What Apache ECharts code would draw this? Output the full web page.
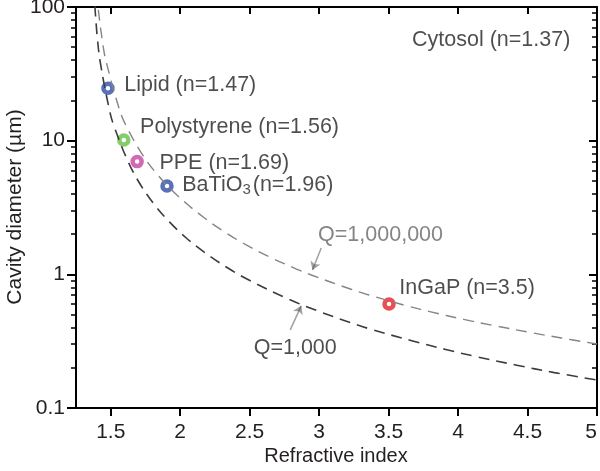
<!DOCTYPE html>
<html><head><meta charset="utf-8">
<script src="https://cdn.jsdelivr.net/npm/echarts@6/dist/echarts.min.js"></script>
<style>html,body{margin:0;padding:0;background:#fff}#c{width:600px;height:471px}</style>
</head><body><div id="c"></div>
<script>
// ---- data ----
const xTicks = [1.5, 2, 2.5, 3, 3.5, 4, 4.5, 5];
const yRange = [0.1, 100];
const xRange = [1.25, 5];
const xTitle = 'Refractive index';
const yTitle = 'Cavity diameter (µm)';

// Q = 1,000 curve (refractive index, cavity diameter in µm)
const q1000N = [1.378, 1.386, 1.404, 1.426, 1.490, 1.523, 1.627, 1.720, 1.829, 1.924, 2.044, 2.175, 2.340, 2.498, 2.785, 2.979, 3.223, 3.370, 3.660, 3.911, 4.133, 4.413, 4.693, 5.0];
const q1000D = [140, 100.9, 58.1, 37.8, 17.1, 12.9, 6.90, 4.58, 3.18, 2.46, 1.87, 1.46, 1.12, 0.902, 0.649, 0.538, 0.436, 0.389, 0.320, 0.274, 0.242, 0.210, 0.184, 0.162];

// Q = 1,000,000 curve
const q1e6N = [1.398, 1.408, 1.440, 1.465, 1.566, 1.623, 1.734, 1.835, 1.978, 2.175, 2.331, 2.498, 2.642, 2.833, 2.943, 3.230, 3.359, 3.639, 3.804, 4.041, 4.241, 4.528, 4.744, 5.0];
const q1e6D = [130, 100.7, 55.5, 39.8, 16.7, 12.2, 7.69, 5.60, 3.90, 2.64, 2.04, 1.61, 1.35, 1.10, 0.989, 0.773, 0.701, 0.578, 0.524, 0.460, 0.417, 0.366, 0.334, 0.301];

// materials
const matLabels = ['Lipid (n=1.47)', 'Polystyrene (n=1.56)', 'PPE (n=1.69)', '{a|BaTiO}{s|3}{a|(n=1.96)}', 'InGaP (n=3.5)'];
const matN = [1.48, 1.594, 1.69, 1.905, 3.503];
const matD = [24.7, 10.1, 6.97, 4.58, 0.60];

// annotations
const noteTexts = ['Cytosol (n=1.37)', 'Q=1,000,000', 'Q=1,000'];
const noteN = [4.238, 3.442, 2.828];
const noteD = [56.6, 1.97, 0.282];
const arrowFromN = [3.015, 2.792];
const arrowFromD = [1.574, 0.384];
const arrowToN = [2.952, 2.871];
const arrowToD = [1.079, 0.581];

// ---- styles ----
const matColors = ['#2f4ea8', '#66bf45', '#c444a4', '#2f4ea8', '#e62129'];
const matOffsets = [[9.5, -3], [9.5, -13], [15.5, 1], [8.5, -1], [3.5, -16]];
const noteColors = ['#231f20', '#666666', '#231f20'];
const arrowColors = ['#444444', '#444444'];
const FONT = 'Liberation Sans, Arial, Helvetica, sans-serif';
const TXT = '#231f20';
const LBL = 21.5;

const zip = (a, b) => a.map((v, i) => [v, b[i]]);
const axisLineStyle = { color: '#000', width: 2 };
const tickStyle = { color: '#000', width: 2 };
const chart = echarts.init(document.getElementById('c'));
chart.setOption({
  animation: false,
  grid: { left: 76, right: 3, top: 7, bottom: 63, containLabel: false, outerBoundsMode: 'none' },
  graphic: [
    {
      type: 'text', x: 336, y: 456, silent: true,
      style: {
        text: xTitle, fill: TXT, fontSize: 20, fontFamily: FONT,
        align: 'center', verticalAlign: 'middle', textAlign: 'center', textVerticalAlign: 'middle'
      }
    },
    {
      type: 'text', x: 15, y: 207, rotation: Math.PI / 2, silent: true,
      style: {
        text: yTitle, fill: TXT, fontSize: 21, fontFamily: FONT,
        align: 'center', verticalAlign: 'middle', textAlign: 'center', textVerticalAlign: 'middle'
      }
    }
  ],
  xAxis: [
    {
      type: 'value', min: xRange[0], max: xRange[1], position: 'bottom',
      axisLine: { show: true, onZero: false, lineStyle: axisLineStyle },
      axisTick: { show: true, customValues: xTicks, length: 8, lineStyle: tickStyle },
      axisLabel: { customValues: xTicks, fontSize: 21, color: TXT, margin: 14, fontFamily: FONT, alignMaxLabel: 'right' },
      splitLine: { show: false }
    },
    {
      type: 'value', min: xRange[0], max: xRange[1], position: 'top',
      axisLine: { show: true, onZero: false, lineStyle: axisLineStyle },
      axisTick: { show: true, customValues: xTicks, length: 7, inside: true, lineStyle: tickStyle },
      axisLabel: { show: false },
      splitLine: { show: false }
    }
  ],
  yAxis: [
    {
      type: 'log', logBase: 10, min: yRange[0], max: yRange[1], position: 'left',
      axisLine: { show: true, onZero: false, lineStyle: axisLineStyle },
      axisTick: { show: true, length: 9, lineStyle: tickStyle },
      minorTick: { show: true, splitNumber: 9, length: 5, lineStyle: { color: '#000', width: 1.5 } },
      axisLabel: { fontSize: 21, color: TXT, margin: 11, fontFamily: FONT },
      splitLine: { show: false }
    },
    {
      type: 'log', logBase: 10, min: yRange[0], max: yRange[1], position: 'right',
      axisLine: { show: true, onZero: false, lineStyle: axisLineStyle },
      axisTick: { show: true, length: 8, inside: true, lineStyle: tickStyle },
      minorTick: { show: true, splitNumber: 9, length: 5, lineStyle: { color: '#000', width: 1.5 } },
      axisLabel: { show: false },
      splitLine: { show: false }
    }
  ],
  series: [
    {
      type: 'line', data: zip(q1e6N, q1e6D), showSymbol: false, smooth: 0.4,
      clip: true, lineStyle: { color: '#858585', width: 1.4, type: [11, 7] }
    },
    {
      type: 'line', data: zip(q1000N, q1000D), showSymbol: false, smooth: 0.4,
      clip: true, lineStyle: { color: '#3c3c3c', width: 1.6, type: [11, 7] }
    },
    {
      type: 'lines', coordinateSystem: 'cartesian2d',
      symbol: ['none', 'arrow'], symbolSize: [0, 8],
      data: arrowFromN.map((v, i) => ({
        coords: [[v, arrowFromD[i]], [arrowToN[i], arrowToD[i]]],
        lineStyle: { color: arrowColors[i], width: 1.5 }
      }))
    },
    {
      type: 'scatter', symbol: 'circle', symbolSize: 9,
      data: matN.map((v, i) => ({
        value: [v, matD[i]],
        itemStyle: { color: '#fff', borderColor: matColors[i], borderWidth: 4.5 },
        label: {
          show: true, position: 'right', distance: 0, offset: matOffsets[i],
          formatter: matLabels[i], fontSize: LBL, color: TXT, fontFamily: FONT,
          rich: {
            a: { fontSize: LBL, color: TXT, fontFamily: FONT },
            s: { fontSize: 15, color: TXT, fontFamily: FONT, verticalAlign: 'bottom', padding: [9, 2, 0, 0] }
          }
        }
      }))
    },
    {
      type: 'scatter', symbolSize: 1, itemStyle: { color: 'rgba(0,0,0,0)' },
      data: noteN.map((v, i) => ({
        value: [v, noteD[i]],
        label: {
          show: true, position: 'inside', formatter: noteTexts[i],
          fontSize: LBL, color: noteColors[i], fontFamily: FONT
        }
      }))
    }
  ]
});
const zr = chart.getZr();
zr.storage.getDisplayList(true);
zr.refreshImmediately();
</script></body></html>
